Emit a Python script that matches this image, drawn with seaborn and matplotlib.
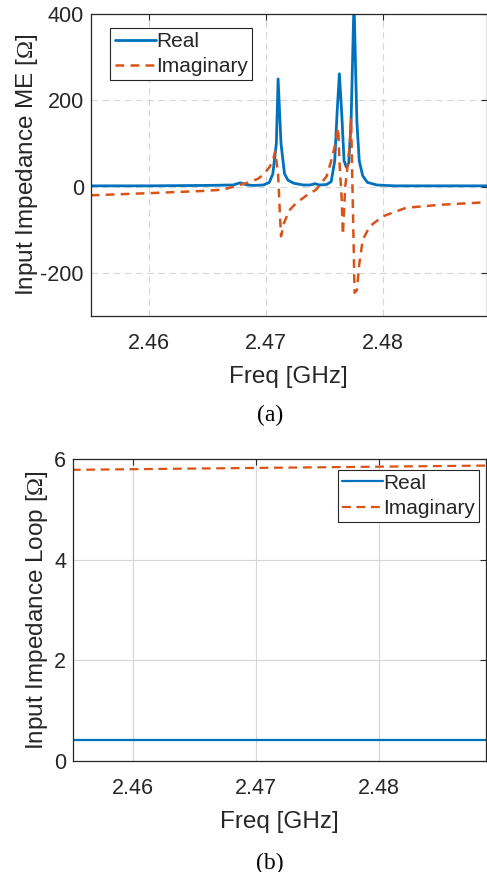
import numpy as np
import pandas as pd
import matplotlib
matplotlib.use("Agg")
import matplotlib.pyplot as plt
import seaborn as sns

# ---------------- data ----------------
# (a) Input impedance ME
freq_me_real = [2.455, 2.460, 2.465, 2.4672, 2.4678, 2.4684, 2.469, 2.4698, 2.4703,
                2.4706, 2.4709, 2.47105, 2.4713, 2.4716, 2.4719, 2.4724, 2.4732, 2.4738,
                2.4742, 2.4746, 2.4752, 2.4756, 2.4759, 2.4761, 2.4763, 2.4765, 2.4767,
                2.4769, 2.4771, 2.4773, 2.47755, 2.4778, 2.4780, 2.4783, 2.4787, 2.4795,
                2.481, 2.485, 2.489]
me_real = [2, 2, 3, 4, 9, 4, 3, 4, 10,
           30, 100, 250, 100, 30, 15, 8, 4, 4,
           7, 4, 5, 12, 60, 170, 262, 170, 60,
           45, 55, 150, 430, 150, 60, 25, 10, 4,
           2, 2, 2]

freq_me_imag = [2.455, 2.460, 2.4645, 2.4663, 2.4683, 2.4693, 2.4698, 2.4703, 2.4706,
                2.4708, 2.47105, 2.4712, 2.4713, 2.47155, 2.4720, 2.4726, 2.4735, 2.4743,
                2.4752, 2.4756, 2.4759, 2.4762, 2.4763, 2.4765, 2.4766, 2.4768, 2.4770,
                2.4772, 2.4773, 2.4775, 2.4776, 2.4778, 2.4780, 2.4783, 2.4789, 2.4800,
                2.4820, 2.4849, 2.4889]
me_imag = [-20, -15, -10, -7, 8, 18, 28, 45, 60,
           82, 30, -60, -115, -85, -55, -38, -20, -7,
           24, 60, 93, 136, 60, -30, -111, 0, 47,
           100, 159, -107, -246, -240, -180, -123, -92, -69,
           -49, -42, -36]

# (b) Input impedance loop
freq_loop = [2.455, 2.465, 2.475, 2.489]
loop_real = [0.42, 0.42, 0.42, 0.42]
loop_imag = [5.785, 5.81, 5.835, 5.87]

xticks = [2.46, 2.47, 2.48]
xtick_labels = ["2.46", "2.47", "2.48"]
yticks_a = [-200, 0, 200, 400]
yticks_b = [0, 2, 4, 6]

# ---------------- style ----------------
sns.set_style("white")
plt.rcParams["font.family"] = ["Liberation Sans", "DejaVu Sans"]
plt.rcParams["mathtext.fontset"] = "custom"
plt.rcParams["mathtext.rm"] = "Liberation Serif"
plt.rcParams["axes.unicode_minus"] = False

BLUE = "#0072BD"
ORANGE = "#D95319"
DARK = "#262626"
TICK_FS = 15.5
LABEL_FS = 17.5
LEG_FS = 15

fig = plt.figure(figsize=(4.87, 8.72), dpi=100)
W, H = 487, 872


def add_ax(l, t, r, b):
    return fig.add_axes([l / W, 1 - b / H, (r - l) / W, (b - t) / H])


def style_axes(ax, gridstyle):
    for s in ax.spines.values():
        s.set_color(DARK)
        s.set_linewidth(0.9)
    ax.tick_params(direction="in", length=4, width=0.8, colors=DARK,
                   labelsize=TICK_FS, top=True, right=True,
                   labelcolor=DARK)
    ax.tick_params(axis="x", pad=12)
    ax.tick_params(axis="y", pad=5)
    ax.grid(True, linestyle=gridstyle, color="#d6d6d6", linewidth=0.8)
    ax.set_axisbelow(True)


# ---- (a) ----
ax1 = add_ax(90.7, 14.3, 486.5, 316)
df_r = pd.DataFrame({"f": freq_me_real, "v": me_real})
df_i = pd.DataFrame({"f": freq_me_imag, "v": me_imag})
sns.lineplot(data=df_r, x="f", y="v", ax=ax1, color=BLUE, linewidth=2.0,
             label="Real", sort=False)
sns.lineplot(data=df_i, x="f", y="v", ax=ax1, color=ORANGE, linewidth=1.8,
             linestyle=(0, (3.5, 2.5)), label="Imaginary", sort=False)
ax1.set_xlim(2.455, 2.4889)
ax1.set_ylim(-300, 400)
ax1.set_xticks(xticks)
ax1.set_xticklabels(xtick_labels)
ax1.set_yticks(yticks_a)
style_axes(ax1, (0, (6, 4)))
ax1.set_xlabel("Freq [GHz]", fontsize=LABEL_FS, color=DARK, labelpad=9)
ax1.set_ylabel(r"Input Impedance ME [$\mathrm{\Omega}$]", fontsize=LABEL_FS,
               color=DARK, labelpad=0)
leg1 = ax1.legend(loc="upper left", bbox_to_anchor=(0.05, 0.955), fontsize=LEG_FS,
                  frameon=True, fancybox=False, edgecolor=DARK, framealpha=1,
                  handlelength=2.0, handletextpad=0.0, borderpad=0.2,
                  labelspacing=0.3, borderaxespad=0)
leg1.get_frame().set_linewidth(0.8)

# ---- (b) ----
ax2 = add_ax(73, 459, 486.5, 761)
df_lr = pd.DataFrame({"f": freq_loop, "v": loop_real})
df_li = pd.DataFrame({"f": freq_loop, "v": loop_imag})
sns.lineplot(data=df_lr, x="f", y="v", ax=ax2, color=BLUE, linewidth=1.6,
             label="Real", sort=False)
sns.lineplot(data=df_li, x="f", y="v", ax=ax2, color=ORANGE, linewidth=1.6,
             linestyle=(0, (4, 2.5)), label="Imaginary", sort=False)
ax2.set_xlim(2.4551, 2.4888)
ax2.set_ylim(0, 6)
ax2.set_xticks(xticks)
ax2.set_xticklabels(xtick_labels)
ax2.set_yticks(yticks_b)
style_axes(ax2, "-")
ax2.set_xlabel("Freq [GHz]", fontsize=LABEL_FS, color=DARK, labelpad=9)
ax2.set_ylabel(r"Input Impedance Loop [$\mathrm{\Omega}$]", fontsize=LABEL_FS,
               color=DARK, labelpad=3)
leg2 = ax2.legend(loc="upper right", bbox_to_anchor=(0.983, 0.965), fontsize=LEG_FS,
                  frameon=True, fancybox=False, edgecolor=DARK, framealpha=1,
                  handlelength=2.0, handletextpad=0.0, borderpad=0.2,
                  labelspacing=0.3, borderaxespad=0)
leg2.get_frame().set_linewidth(0.8)

# captions
fig.text(270 / W, 1 - 415 / H, "(a)", ha="center", va="center",
         fontsize=17, family="Liberation Serif", color="black")
fig.text(270 / W, 1 - 863 / H, "(b)", ha="center", va="center",
         fontsize=17, family="Liberation Serif", color="black")

fig.savefig("out.png", dpi=100, facecolor="white")
